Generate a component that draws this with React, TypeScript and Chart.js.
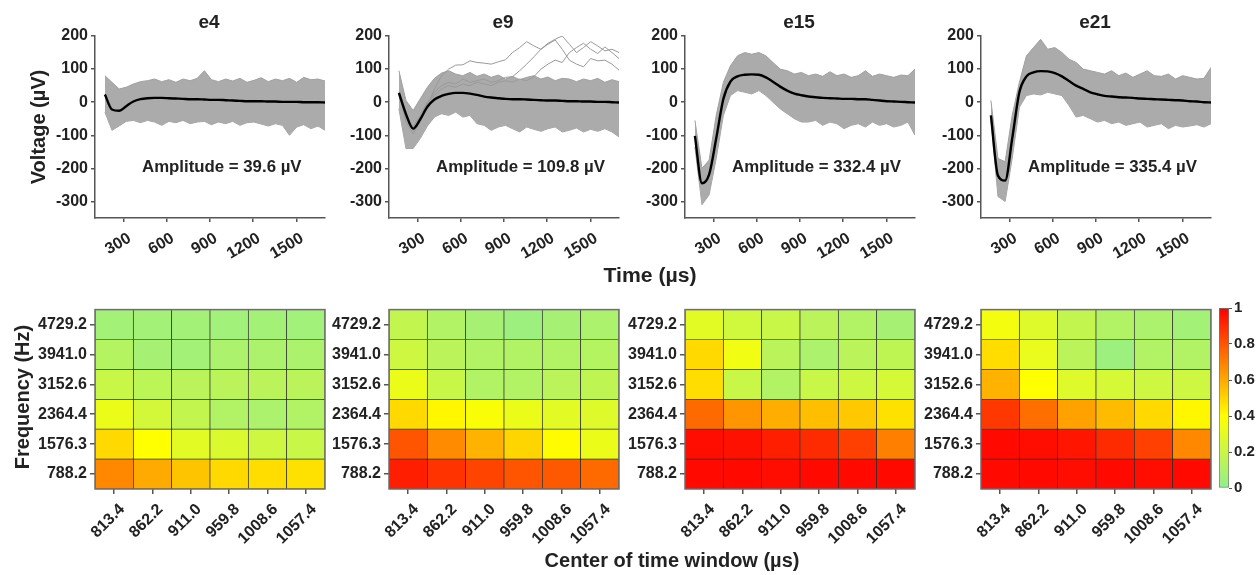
import React, { useEffect, useRef } from "react";
import { Chart, registerables } from "chart.js";
Chart.register(...registerables);

// ---------------- DATA ----------------
const TIME_US = [169, 218, 268, 317, 367, 416, 465, 515, 564, 614, 663, 712, 762, 811, 861, 910, 959, 1009, 1058, 1108, 1157, 1206, 1256, 1305, 1355, 1404, 1453, 1503, 1552, 1602, 1651, 1700];
const X_TICKS = [300, 600, 900, 1200, 1500];
const Y_TICKS = [-300, -200, -100, 0, 100, 200];
const ELECTRODES = ["e4", "e9", "e15", "e21"];
const AMPLITUDES = ["39.6", "109.8", "332.4", "335.4"];

const E4_MEAN = [23, -22, -26, -12, 2, 9, 12, 13, 13, 12, 11, 10, 9, 9, 8, 7, 7, 6, 5, 4, 3, 3, 3, 2, 2, 1, 1, 1, 0, 0, 0, -1];
const E4_UPPER = [80, 60, 40, 45, 55, 62, 65, 70, 62, 68, 60, 70, 65, 72, 95, 68, 62, 70, 64, 72, 60, 66, 74, 62, 70, 65, 72, 60, 75, 68, 70, 64];
const E4_LOWER = [-30, -85, -72, -58, -55, -62, -55, -60, -70, -58, -62, -55, -65, -60, -58, -68, -60, -65, -58, -70, -62, -60, -66, -72, -65, -70, -100, -75, -68, -80, -72, -85];

const E9_MEAN = [28, -36, -80, -52, -14, 8, 19, 25, 28, 28, 26, 22, 17, 14, 12, 10, 9, 9, 8, 7, 6, 5, 5, 4, 3, 3, 2, 2, 1, 1, 0, -1];
const E9_UPPER = [95, 5, -25, 10, 45, 72, 88, 95, 85, 80, 90, 78, 85, 75, 82, 70, 78, 68, 75, 80, 70, 76, 65, 72, 70, 62, 70, 65, 72, 60, 68, 62];
const E9_LOWER = [-20, -140, -140, -110, -72, -45, -35, -40, -30, -45, -40, -65, -70, -85, -75, -70, -80, -90, -75, -82, -88, -80, -75, -90, -85, -78, -90, -82, -88, -80, -90, -105];
const E9_OUT_A = [30, -60, -95, -60, -10, 40, 80, 100, 112, 113, 125, 120, 118, 115, 122, 128, 150, 165, 183, 170, 160, 178, 190, 200, 175, 150, 165, 183, 170, 155, 160, 150];
const E9_OUT_B = [25, -50, -85, -45, -5, 30, 50, 60, 55, 70, 60, 65, 70, 60, 65, 75, 77, 95, 115, 137, 160, 175, 188, 160, 127, 115, 107, 132, 125, 127, 115, 97];
const E9_OUT_C = [20, -40, -75, -40, 0, 20, 40, 50, 45, 55, 50, 60, 55, 50, 60, 65, 60, 70, 65, 77, 100, 115, 127, 120, 150, 165, 178, 160, 147, 167, 150, 132];

const E15_MEAN = [-102, -245, -218, -110, 10, 62, 78, 83, 84, 83, 75, 62, 47, 35, 26, 21, 17, 15, 13, 12, 11, 10, 10, 9, 9, 7, 5, 3, 2, 1, 0, -1];
const E15_UPPER = [-55, -200, -175, -40, 60, 110, 140, 150, 145, 150, 140, 120, 100, 95, 85, 90, 80, 85, 78, 92, 80, 85, 75, 80, 95, 78, 85, 80, 75, 82, 80, 100];
const E15_LOWER = [-135, -310, -280, -170, -40, 20, 35, 30, 25, 35, 20, 0, -20, -35, -50, -60, -60, -55, -70, -60, -65, -80, -70, -65, -75, -60, -70, -65, -75, -70, -60, -100];

const E21_MEAN = [-40, -222, -237, -110, 30, 78, 90, 94, 93, 88, 78, 64, 50, 40, 30, 24, 19, 17, 15, 14, 13, 11, 10, 9, 8, 7, 6, 5, 3, 2, 0, -1];
const E21_UPPER = [5, -170, -180, -40, 60, 140, 165, 190, 160, 165, 150, 130, 120, 100, 95, 90, 85, 95, 80, 88, 75, 85, 95, 80, 78, 85, 70, 80, 75, 70, 72, 105];
const E21_LOWER = [-50, -285, -300, -170, -15, 20, 25, 22, 30, 25, 20, -10, -45, -40, -50, -60, -55, -65, -60, -70, -65, -60, -75, -70, -65, -80, -70, -75, -72, -68, -75, -65];

const WINDOW_CENTERS = ["813.4", "862.2", "911.0", "959.8", "1008.6", "1057.4"];
// bottom row first
const FREQS = ["788.2", "1576.3", "2364.4", "3152.6", "3941.0", "4729.2"];

const E4_HEAT = [
  [0.68, 0.6, 0.54, 0.49, 0.48, 0.47],
  [0.49, 0.4, 0.3, 0.27, 0.22, 0.2],
  [0.33, 0.24, 0.18, 0.12, 0.1, 0.12],
  [0.2, 0.16, 0.15, 0.15, 0.15, 0.15],
  [0.13, 0.08, 0.07, 0.1, 0.1, 0.1],
  [0.07, 0.07, 0.07, 0.06, 0.07, 0.06],
];
const E9_HEAT = [
  [0.93, 0.88, 0.84, 0.8, 0.79, 0.75],
  [0.8, 0.67, 0.58, 0.5, 0.41, 0.33],
  [0.49, 0.42, 0.38, 0.33, 0.3, 0.28],
  [0.33, 0.2, 0.12, 0.12, 0.15, 0.17],
  [0.22, 0.15, 0.12, 0.12, 0.12, 0.13],
  [0.18, 0.12, 0.08, 0.05, 0.08, 0.1],
];
const E15_HEAT = [
  [0.98, 0.98, 0.97, 0.98, 0.98, 0.98],
  [0.97, 0.96, 0.93, 0.9, 0.85, 0.7],
  [0.75, 0.65, 0.59, 0.55, 0.53, 0.47],
  [0.48, 0.2, 0.12, 0.2, 0.22, 0.25],
  [0.49, 0.35, 0.15, 0.1, 0.15, 0.17],
  [0.3, 0.23, 0.2, 0.15, 0.12, 0.08],
];
const E21_HEAT = [
  [0.98, 0.98, 0.97, 0.98, 0.97, 0.98],
  [0.98, 0.97, 0.95, 0.9, 0.85, 0.68],
  [0.87, 0.74, 0.62, 0.56, 0.49, 0.42],
  [0.58, 0.4, 0.28, 0.25, 0.22, 0.22],
  [0.48, 0.32, 0.15, 0.05, 0.12, 0.12],
  [0.36, 0.28, 0.18, 0.12, 0.1, 0.07],
];
const CBAR_TICKS = [0, 0.2, 0.4, 0.6, 0.8, 1];
const CMAP_STOPS: [number, number[]][] = [
  [0, [144, 238, 144]],
  [0.4, [255, 255, 0]],
  [1, [255, 0, 0]],
];

// ---------------- STYLE / LAYOUT ----------------
const FONT_FAMILY = "'Liberation Sans', Arial, Helvetica, sans-serif";
const TEXT = "#222";
const AXIS = "#555";
const PANEL_LEFT = [95, 389, 685, 981];
const PANEL_W = 230;
const LINE_TOP = 36;
const LINE_H = 182;
const HEAT_TOP = 307;
const HEAT_H = 182;

function cmap(v: number): string {
  for (let i = 0; i < CMAP_STOPS.length - 1; i++) {
    const [p0, c0] = CMAP_STOPS[i];
    const [p1, c1] = CMAP_STOPS[i + 1];
    if (v <= p1 || i === CMAP_STOPS.length - 2) {
      const f = Math.max(0, Math.min(1, (v - p0) / (p1 - p0)));
      const c = c0.map((a, k) => Math.round(a + (c1[k] - a) * f));
      return `rgb(${c[0]},${c[1]},${c[2]})`;
    }
  }
  return "red";
}

const tickFont = { family: FONT_FAMILY, weight: "bold" as const, size: 16 };
const plain = (v: number) => String(v);

function lineConfig(mean: number[], upper: number[], lower: number[], extras: number[][]): any {
  const pts = (arr: number[]) => TIME_US.map((t, i) => ({ x: t, y: arr[i] }));
  const datasets: any[] = [
    { data: pts(mean), borderColor: "#000", borderWidth: 2.4, pointRadius: 0, cubicInterpolationMode: "monotone", fill: false, order: 0 },
    { data: pts(upper), borderColor: "#a0a0a0", borderWidth: 1, pointRadius: 0, fill: 2, backgroundColor: "#ababab", order: 2 },
    { data: pts(lower), borderColor: "#a0a0a0", borderWidth: 1, pointRadius: 0, fill: false, order: 2 },
    ...extras.map((e) => ({ data: pts(e), borderColor: "#9a9a9a", borderWidth: 1, pointRadius: 0, fill: false, order: 1 })),
  ];
  return {
    type: "line",
    data: { datasets },
    options: {
      responsive: false,
      animation: false,
      devicePixelRatio: 1,
      layout: { padding: { top: 14, right: 14, left: 0, bottom: 0 } },
      plugins: { legend: { display: false }, tooltip: { enabled: false } },
      scales: {
        x: {
          type: "linear",
          min: 100,
          max: 1700,
          afterBuildTicks: (s: any) => { s.ticks = X_TICKS.map((v) => ({ value: v })); },
          afterFit: (s: any) => { s.height = 60; },
          ticks: { autoSkip: false, minRotation: 30, maxRotation: 30, padding: 7, labelOffset: 6, font: tickFont, color: TEXT, callback: plain },
          grid: { drawOnChartArea: false, drawTicks: true, tickLength: 4, color: AXIS, lineWidth: 1.5 },
          border: { color: AXIS, width: 1.5 },
        },
        y: {
          type: "linear",
          min: -350,
          max: 200,
          afterBuildTicks: (s: any) => { s.ticks = Y_TICKS.map((v) => ({ value: v })); },
          afterFit: (s: any) => { s.width = 70; },
          ticks: { padding: 3, font: tickFont, color: TEXT, callback: plain },
          grid: { drawOnChartArea: false, drawTicks: true, tickLength: 4, color: AXIS, lineWidth: 1.5 },
          border: { color: AXIS, width: 1.5 },
        },
      },
    },
  };
}

const boxPlugin = {
  id: "box",
  afterDatasetsDraw(chart: any) {
    const { ctx, chartArea: a } = chart;
    ctx.save();
    ctx.strokeStyle = "#6e6e6e";
    ctx.lineWidth = 1.5;
    ctx.strokeRect(a.left, a.top, a.right - a.left, a.bottom - a.top);
    ctx.restore();
  },
};

function heatConfig(values: number[][]): any {
  const datasets = FREQS.map((f, r) => ({
    label: f,
    data: WINDOW_CENTERS.map(() => 1),
    backgroundColor: values[r].map(cmap),
    borderColor: "rgba(25,25,25,0.85)",
    borderWidth: 0.7,
    borderSkipped: false,
    barPercentage: 1,
    categoryPercentage: 1,
  }));
  return {
    type: "bar",
    data: { labels: WINDOW_CENTERS, datasets },
    plugins: [boxPlugin],
    options: {
      responsive: false,
      animation: false,
      devicePixelRatio: 1,
      layout: { padding: { top: 10, right: 12, left: 0, bottom: 0 } },
      plugins: { legend: { display: false }, tooltip: { enabled: false } },
      scales: {
        x: {
          stacked: true,
          afterFit: (s: any) => { s.height = 70; },
          ticks: { autoSkip: false, minRotation: 45, maxRotation: 45, padding: 6, labelOffset: 8, font: tickFont, color: TEXT },
          grid: { offset: false, drawOnChartArea: false, drawTicks: true, tickLength: 5, color: AXIS, lineWidth: 1.5 },
          border: { display: false },
        },
        y: {
          stacked: true,
          min: 0,
          max: FREQS.length,
          afterBuildTicks: (s: any) => { s.ticks = FREQS.map((_, i) => ({ value: i + 0.5 })); },
          afterFit: (s: any) => { s.width = 80; },
          ticks: { padding: 3, font: tickFont, color: TEXT, callback: (v: number) => FREQS[Math.round(v - 0.5)] },
          grid: { drawOnChartArea: false, drawTicks: true, tickLength: 5, color: AXIS, lineWidth: 1.5 },
          border: { display: false },
        },
      },
    },
  };
}

function cbarConfig(): any {
  return {
    type: "bar",
    data: {
      labels: [""],
      datasets: [
        {
          data: [[0, 1]],
          backgroundColor: (c: any) => {
            const a = c.chart.chartArea;
            if (!a) return "red";
            const g = c.chart.ctx.createLinearGradient(0, a.bottom, 0, a.top);
            CMAP_STOPS.forEach(([p, rgb]) => g.addColorStop(p, `rgb(${rgb[0]},${rgb[1]},${rgb[2]})`));
            return g;
          },
          borderColor: "#777",
          borderWidth: 1,
          borderSkipped: false,
          barPercentage: 1,
          categoryPercentage: 1,
        },
      ],
    },
    options: {
      responsive: false,
      animation: false,
      devicePixelRatio: 1,
      layout: { padding: { top: 10, right: 0, left: 0, bottom: 10 } },
      plugins: { legend: { display: false }, tooltip: { enabled: false } },
      scales: {
        x: { display: false },
        y: {
          position: "right",
          min: 0,
          max: 1,
          afterBuildTicks: (s: any) => { s.ticks = CBAR_TICKS.map((v) => ({ value: v })); },
          afterFit: (s: any) => { s.width = 31; },
          ticks: { padding: 2, font: { ...tickFont, size: 15 }, color: TEXT, callback: plain },
          grid: { drawOnChartArea: false, drawTicks: true, tickLength: 3, color: AXIS },
          border: { display: false },
        },
      },
    },
  };
}

function ChartCanvas({ config, left, top, width, height }: { config: any; left: number; top: number; width: number; height: number }) {
  const ref = useRef<HTMLCanvasElement>(null);
  useEffect(() => {
    const chart = new Chart(ref.current as HTMLCanvasElement, config);
    return () => chart.destroy();
  }, []);
  return <canvas ref={ref} width={width} height={height} style={{ position: "absolute", left, top, width, height }} />;
}

function Label({ text, x, y, size, rotate, scaleX, align }: { text: string; x: number; y: number; size: number; rotate?: boolean; scaleX?: number; align?: "left" }) {
  const t = align === "left"
    ? `translate(0,-50%) scaleX(${scaleX || 1})`
    : `translate(-50%,-50%)${rotate ? " rotate(-90deg)" : ""}${scaleX ? ` scaleX(${scaleX})` : ""}`;
  return (
    <div
      style={{
        position: "absolute",
        left: x,
        top: y,
        transform: t,
        transformOrigin: align === "left" ? "left center" : "center center",
        fontFamily: FONT_FAMILY,
        fontWeight: "bold",
        fontSize: size,
        color: TEXT,
        whiteSpace: "nowrap",
        lineHeight: 1,
      }}
    >
      {text}
    </div>
  );
}

export default function App() {
  const lines = [
    lineConfig(E4_MEAN, E4_UPPER, E4_LOWER, []),
    lineConfig(E9_MEAN, E9_UPPER, E9_LOWER, [E9_OUT_A, E9_OUT_B, E9_OUT_C]),
    lineConfig(E15_MEAN, E15_UPPER, E15_LOWER, []),
    lineConfig(E21_MEAN, E21_UPPER, E21_LOWER, []),
  ];
  const heats = [heatConfig(E4_HEAT), heatConfig(E9_HEAT), heatConfig(E15_HEAT), heatConfig(E21_HEAT)];
  return (
    <div style={{ position: "absolute", left: 0, top: 0, width: 1260, height: 575, overflow: "hidden", background: "#fff" }}>
      {lines.map((cfg, i) => (
        <ChartCanvas key={"l" + i} config={cfg} left={PANEL_LEFT[i] - 70} top={LINE_TOP - 14} width={70 + PANEL_W + 14} height={14 + LINE_H + 60} />
      ))}
      {heats.map((cfg, i) => (
        <ChartCanvas key={"h" + i} config={cfg} left={PANEL_LEFT[i] - 80} top={HEAT_TOP - 10} width={80 + PANEL_W + 12} height={10 + HEAT_H + 70} />
      ))}
      <ChartCanvas config={cbarConfig()} left={1219} top={HEAT_TOP - 10} width={41} height={10 + HEAT_H + 10} />
      {ELECTRODES.map((e, i) => (
        <Label key={"t" + i} text={e} x={PANEL_LEFT[i] + PANEL_W / 2 - 1} y={21} size={19} />
      ))}
      {AMPLITUDES.map((a, i) => (
        <Label key={"a" + i} text={`Amplitude = ${a} µV`} x={PANEL_LEFT[i] + 47} y={167} size={16} align="left" scaleX={1.05} />
      ))}
      <Label text="Voltage (µV)" x={38} y={127} size={20} rotate />
      <Label text="Time (µs)" x={650} y={275} size={20} scaleX={1.06} />
      <Label text="Frequency (Hz)" x={22} y={397} size={20} rotate />
      <Label text="Center of time window (µs)" x={672} y={560} size={20} />
    </div>
  );
}
